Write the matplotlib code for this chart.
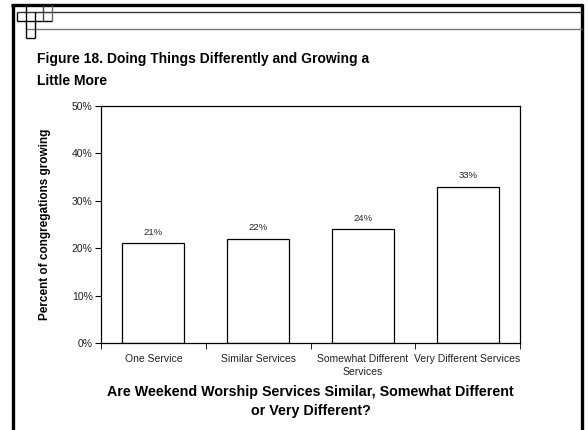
import matplotlib
matplotlib.use('Agg')
import matplotlib.pyplot as plt
import numpy as np

plt.rcParams['font.family'] = ['Liberation Sans', 'DejaVu Sans']

categories = ['One Service', 'Similar Services', 'Somewhat Different\nServices',
              'Very Different Services']
values = [21, 22, 24, 33]
y_ticks = [0, 10, 20, 30, 40, 50]

W, H = 588, 430
fig = plt.figure(figsize=(W / 100, H / 100), dpi=100)

# background layer in pixel coordinates for the slide frame
bg = fig.add_axes([0, 0, 1, 1])
bg.set_xlim(0, W)
bg.set_ylim(H, 0)
bg.axis('off')

def seg(x0, y0, x1, y1, c='black', lw=1.0):
    bg.plot([x0, x1], [y0, y1], color=c, lw=lw, solid_capstyle='butt')

# outer frame (left, top, right)
seg(12.5, 4, 12.5, H, lw=2.4)
seg(11, 4.7, 583, 4.7, lw=2.4)
seg(582, 4, 582, H, lw=2.4)

# header lines
seg(17.3, 12.3, 582, 12.3, c='#333333')
seg(26, 29.3, 582, 29.3, c='#777777')

# little stair of squares in the corner
seg(17.3, 12.3, 17.3, 20.7)
seg(17.3, 20.7, 52.3, 20.7)
seg(26, 4.7, 26, 37.7)
seg(35, 12.3, 35, 37.7)
seg(43.3, 4.7, 43.3, 20.7, c='#444444')
seg(52.3, 4.7, 52.3, 20.7, c='#666666')
seg(26, 37.7, 35, 37.7)

# title
fig.text(37 / W, 1 - 63 / H, 'Figure 18. Doing Things Differently and Growing a',
         fontsize=10, fontweight='bold', ha='left', va='baseline')
fig.text(37 / W, 1 - 85 / H, 'Little More',
         fontsize=10, fontweight='bold', ha='left', va='baseline')

# main chart
ax = fig.add_axes([101 / W, 1 - 343 / H, 419 / W, 237 / H])
x = np.arange(len(categories))
ax.bar(x, values, width=0.59, color='white', edgecolor='black', linewidth=0.9)
for xi, v in zip(x, values):
    ax.text(xi, v + 1.4, f'{v}%', ha='center', va='bottom', fontsize=6.8,
            color='#222222')

ax.set_xlim(-0.5, len(categories) - 0.5)
ax.set_ylim(0, 50)
ax.set_yticks(y_ticks)
ax.set_yticklabels([f'{t}%' for t in y_ticks], fontsize=7.5, color='#222222')
ax.set_xticks(x)
ax.set_xticklabels(categories, fontsize=7.5, color='#222222', linespacing=1.35)
ax.tick_params(axis='x', which='major', length=0, pad=8)
ax.set_xticks(np.arange(-0.5, len(categories)), minor=True)
ax.tick_params(axis='x', which='minor', length=4, direction='out')
ax.tick_params(axis='y', length=4, direction='out', pad=2)
for s in ax.spines.values():
    s.set_linewidth(0.9)

ax.set_ylabel('Percent of congregations growing', fontsize=8.5,
              fontweight='bold', labelpad=15)
ax.set_xlabel('Are Weekend Worship Services Similar, Somewhat Different\n'
              'or Very Different?', fontsize=10.3, fontweight='bold', labelpad=6,
              linespacing=1.45)

fig.savefig('out.png', dpi=100, facecolor='white')
